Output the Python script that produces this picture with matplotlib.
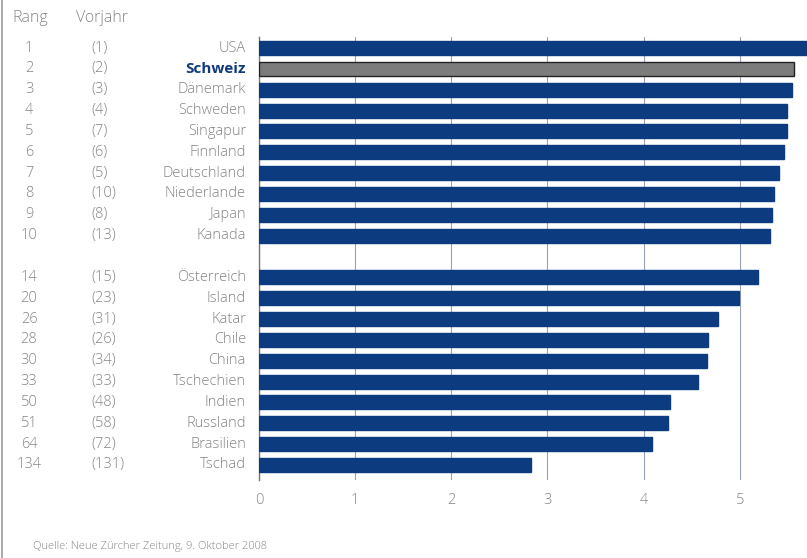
import matplotlib
matplotlib.use('Agg')
import matplotlib.pyplot as plt
from matplotlib.transforms import blended_transform_factory
from matplotlib.lines import Line2D

# Data
countries = ['USA', 'Schweiz', 'Dänemark', 'Schweden', 'Singapur', 'Finnland',
             'Deutschland', 'Niederlande', 'Japan', 'Kanada',
             'Österreich', 'Island', 'Katar', 'Chile', 'China', 'Tschechien',
             'Indien', 'Russland', 'Brasilien', 'Tschad']
rang = [1, 2, 3, 4, 5, 6, 7, 8, 9, 10,
        14, 20, 26, 28, 30, 33, 50, 51, 64, 134]
vorjahr = [1, 2, 3, 4, 7, 6, 5, 10, 8, 13,
           15, 23, 31, 26, 34, 33, 48, 58, 72, 131]
scores = [5.75, 5.56, 5.54, 5.49, 5.49, 5.46, 5.41, 5.36, 5.34, 5.32,
          5.19, 4.99, 4.77, 4.67, 4.66, 4.57, 4.28, 4.25, 4.09, 2.83]
highlight = 'Schweiz'
xticks = [0, 1, 2, 3, 4, 5]
source = 'Quelle: Neue Zürcher Zeitung, 9. Oktober 2008'

BLUE = '#0c3b80'
GRAY_TXT = '#858585'
FONT = 'Open Sans'

# rows: top ten, one blank row, then the rest
ypos = list(range(10)) + list(range(11, 21))

fig = plt.figure(figsize=(8.07, 5.58), dpi=100)
ax = fig.add_axes([259 / 807, 78 / 558, 548 / 807, 443 / 558])

colors = ['#7c7c7c' if c == highlight else BLUE for c in countries]
edges = ['#222222' if c == highlight else BLUE for c in countries]
ax.barh(ypos, scores, height=0.67, color=colors, edgecolor=edges, linewidth=1.0, zorder=3)

ax.set_xlim(0, 5.70)
ax.set_ylim(20.72, -0.53)
ax.set_xticks(xticks)
ax.set_yticks([])
ax.grid(axis='x', color='#9aa3b5', linewidth=0.8, zorder=0)
ax.set_axisbelow(True)
for s in ['top', 'right', 'bottom']:
    ax.spines[s].set_visible(False)
ax.spines['left'].set_color('#777777')
ax.spines['left'].set_linewidth(1.0)
ax.tick_params(axis='x', length=0, pad=9, labelsize=10.5, labelcolor=GRAY_TXT)
for lab in ax.get_xticklabels():
    lab.set_fontfamily(FONT)
    lab.set_fontweight('light')

# left-hand text columns
tr = blended_transform_factory(fig.transFigure, ax.transData)
for y, c, r, v in zip(ypos, countries, rang, vorjahr):
    ax.text(29 / 807, y, str(r), transform=tr, ha='center', va='center',
            fontsize=10.5, color=GRAY_TXT, family=FONT, fontweight='light', clip_on=False)
    ax.text(91 / 807, y, f'({v})', transform=tr, ha='left', va='center',
            fontsize=10.5, color=GRAY_TXT, family=FONT, fontweight='light', clip_on=False)
    if c == highlight:
        ax.text(246 / 807, y, c, transform=tr, ha='right', va='center',
                fontsize=11, color='#123b78', fontweight='bold', family=FONT, clip_on=False)
    else:
        ax.text(246 / 807, y, c, transform=tr, ha='right', va='center',
                fontsize=10.5, color=GRAY_TXT, family=FONT, fontweight='light', clip_on=False)

ax.text(30 / 807, -1.45, 'Rang', transform=tr, ha='center', va='center',
        fontsize=11.5, color=GRAY_TXT, family=FONT, fontweight='light', clip_on=False)
ax.text(102 / 807, -1.45, 'Vorjahr', transform=tr, ha='center', va='center',
        fontsize=11.5, color=GRAY_TXT, family=FONT, fontweight='light', clip_on=False)

fig.text(33 / 807, 1 - 547 / 558, source, ha='left', va='center',
         fontsize=8, color=GRAY_TXT, family=FONT, fontweight='light')

# thin frame line on the left edge
fig.add_artist(Line2D([2 / 807, 2 / 807], [0, 1], transform=fig.transFigure,
                      color='#999999', linewidth=1.2))

fig.savefig('out.png', dpi=100)
